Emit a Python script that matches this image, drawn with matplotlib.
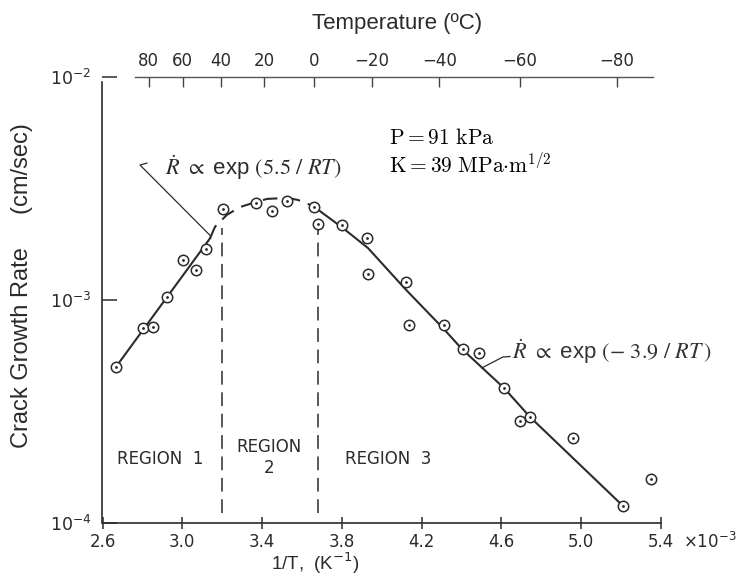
import numpy as np
import matplotlib.pyplot as plt
from matplotlib.ticker import NullLocator

# measured points: 1/T (x1e-3 K^-1) vs crack growth rate (cm/sec)
inv_T = [2.666, 2.805, 2.851, 2.925, 3.005, 3.070, 3.119, 3.206, 3.368,
         3.451, 3.526, 3.659, 3.680, 3.800, 3.927, 3.932, 4.123, 4.139,
         4.310, 4.405, 4.488, 4.614, 4.693, 4.743, 4.960, 5.208, 5.348]
rate = [4.99e-4, 7.46e-4, 7.54e-4, 1.035e-3, 1.51e-3, 1.36e-3, 1.69e-3, 2.56e-3, 2.73e-3,
        2.51e-3, 2.79e-3, 2.61e-3, 2.19e-3, 2.17e-3, 1.89e-3, 1.31e-3, 1.20e-3, 7.72e-4,
        7.69e-4, 6.04e-4, 5.81e-4, 4.04e-4, 2.87e-4, 3.00e-4, 2.40e-4, 1.196e-4, 1.57e-4]

# fitted curves
fit1_x = [2.666, 3.139]
fit1_y = [4.99e-4, 1.89e-3]
peak_x = [3.139, 3.164, 3.224, 3.289, 3.369, 3.425, 3.525, 3.580, 3.655]
peak_y = [1.89e-3, 2.13e-3, 2.41e-3, 2.61e-3, 2.75e-3, 2.84e-3, 2.87e-3, 2.81e-3, 2.64e-3]
fit3_x = [3.655, 3.800, 3.931, 4.122, 4.307, 4.402, 4.613, 4.743, 5.208]
fit3_y = [2.64e-3, 2.12e-3, 1.71e-3, 1.11e-3, 7.48e-4, 6.03e-4, 4.03e-4, 2.99e-4, 1.196e-4]

boundary_x = [3.2, 3.68]
boundary_y = [1.11e-4, 2.1e-3]

x_ticks = [2.6, 3.0, 3.4, 3.8, 4.2, 4.6, 5.0, 5.4]
x_labels = ['2.6', '3.0', '3.4', '3.8', '4.2', '4.6', '5.0', '5.4']
y_ticks = [1e-4, 1e-3, 1e-2]
y_labels = [r'$10^{-4}$', r'$10^{-3}$', r'$10^{-2}$']
temp_ticks = [80, 60, 40, 20, 0, -20, -40, -60, -80]

ink = '#2b2b2b'
W, H = 744, 575

fig = plt.figure(figsize=(W / 100, H / 100), dpi=100)
ax = fig.add_axes([102.5 / W, 52 / H, 558.5 / W, 446 / H])
ax.set_yscale('log')
ax.set_xlim(2.6, 5.4)
ax.set_ylim(1e-4, 1e-2)

ax.plot(fit1_x, fit1_y, color=ink, lw=1.5)
ax.plot(peak_x, peak_y, color=ink, lw=1.5, dashes=(7, 4))
ax.plot(fit3_x, fit3_y, color=ink, lw=1.5)
for bx in boundary_x:
    ax.plot([bx, bx], boundary_y, color=ink, lw=1.1, dashes=(9, 5))

ax.plot(inv_T, rate, 'o', ls='none', ms=7.5, mfc='white', mec=ink, mew=1.1, clip_on=False)
ax.plot(inv_T, rate, '.', ls='none', ms=2, color=ink, clip_on=False)

# axes styling
for s in ['top', 'right']:
    ax.spines[s].set_visible(False)
ax.spines['left'].set_bounds(1e-4, 9.5e-3)
for s in ['left', 'bottom']:
    ax.spines[s].set_color(ink)
    ax.spines[s].set_linewidth(1.2)

ax.set_xticks(x_ticks, x_labels)
ax.set_yticks(y_ticks, y_labels)
ax.yaxis.set_minor_locator(NullLocator())
ax.tick_params(axis='x', direction='inout', length=9, width=1.1, pad=3,
               labelsize=12, color=ink, labelcolor=ink)
ax.tick_params(axis='y', direction='in', length=11, width=1.1, pad=8,
               labelsize=12.5, color=ink, labelcolor=ink)

# temperature axis on top
axt = ax.twiny()
axt.set_xlim(ax.get_xlim())
for s in ['bottom', 'left', 'right']:
    axt.spines[s].set_visible(False)
axt.spines['top'].set_bounds(2.763, 5.36)
axt.spines['top'].set_color('#555555')
axt.spines['top'].set_linewidth(1.0)
temp_pos = [1000.0 / (t + 273.15) for t in temp_ticks]
axt.set_xticks(temp_pos, [str(t).replace('-', '\u2212') for t in temp_ticks])
axt.tick_params(axis='x', direction='in', length=7, width=1.0, pad=5,
                labelsize=12, color='#444444', labelcolor=ink)

# labels
fig.text(397 / W, 1 - 23 / H, 'Temperature (ºC)', ha='center', va='center',
         fontsize=16, family='Liberation Sans', color=ink)
fig.text(22 / W, 1 - 286 / H, 'Crack Growth Rate     (cm/sec)', rotation=90,
         ha='center', va='center', fontsize=17, family='Liberation Sans', color=ink)
fig.text(315 / W, 1 - 570 / H, '1/T,  (K$^{-1}$)', ha='center', va='baseline',
         fontsize=13.5, family='Liberation Sans', color=ink)
fig.text(683 / W, 1 - 542 / H, '×10$^{-3}$', ha='left', va='center',
         fontsize=12, color=ink)

# rate-law annotations
ax.text(2.913, 3.94e-3, r'$\dot{R}$ $\propto$ exp $(5.5\ /\ RT)$', ha='left', va='center',
        fontsize=16, family='Liberation Sans', math_fontfamily='stix', color=ink)
ax.plot([2.823, 2.788, 3.139], [4.11e-3, 4.03e-3, 1.95e-3], color=ink, lw=0.9)
ax.text(4.653, 5.85e-4, r'$\dot{R}$ $\propto$ exp $(-\ 3.9\ /\ RT\,)$', ha='left', va='center',
        fontsize=16, family='Liberation Sans', math_fontfamily='stix', color='#333333')
ax.plot([4.502, 4.607, 4.643], [4.96e-4, 5.55e-4, 5.58e-4], color=ink, lw=0.9)

ax.text(4.036, 5.32e-3, r'$\mathrm{P = 91\ kPa}$', ha='left', va='center',
        fontsize=15.5, math_fontfamily='cm', color='black')
ax.text(4.036, 4.03e-3, r'$\mathrm{K = 39\ MPa{\cdot}m^{1/2}}$', ha='left', va='center',
        fontsize=15.5, math_fontfamily='cm', color='black')

ax.text(2.888, 1.936e-4, 'REGION  1', ha='center', va='center', fontsize=12, color=ink)
ax.text(3.435, 1.96e-4, 'REGION\n2', ha='center', va='center', fontsize=12,
        color=ink, linespacing=1.2)
ax.text(4.031, 1.936e-4, 'REGION  3', ha='center', va='center', fontsize=12, color=ink)

fig.savefig('out.png', dpi=100)
